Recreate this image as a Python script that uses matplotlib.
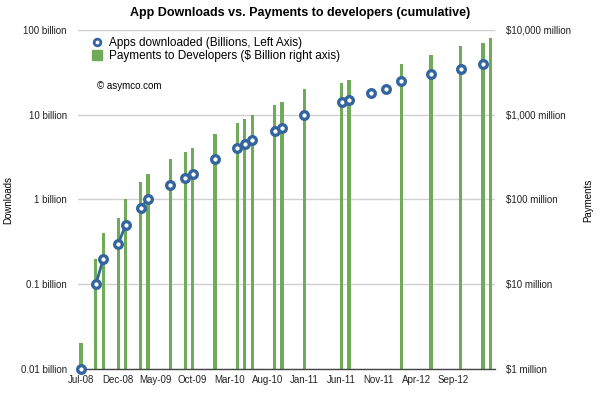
import numpy as np
import pandas as pd
import matplotlib
matplotlib.use('Agg')
import matplotlib.pyplot as plt
from matplotlib.lines import Line2D
from matplotlib.ticker import NullLocator

plt.rcParams['font.family'] = ['Liberation Sans', 'DejaVu Sans']

# Apps downloaded, billions (cumulative)
dl_months = ['2008-07', '2008-09', '2008-10', '2008-12', '2009-01', '2009-03',
             '2009-04', '2009-07', '2009-09', '2009-10', '2010-01', '2010-04',
             '2010-05', '2010-06', '2010-09', '2010-10', '2011-01', '2011-06',
             '2011-07', '2011-10', '2011-12', '2012-02', '2012-06', '2012-10',
             '2013-01']
downloads = [0.01, 0.1, 0.2, 0.3, 0.5, 0.8,
             1.0, 1.5, 1.8, 2.0, 3.0, 4.0,
             4.5, 5.0, 6.5, 7.0, 10, 14,
             15, 18, 20, 25, 30, 35,
             40]

# Payments to developers, $ million (cumulative)
pay_months = ['2008-07', '2008-09', '2008-10', '2008-12', '2009-01', '2009-03',
              '2009-04', '2009-07', '2009-09', '2009-10', '2010-01', '2010-04',
              '2010-05', '2010-06', '2010-09', '2010-10', '2011-01', '2011-06',
              '2011-07', '2012-02', '2012-06', '2012-10', '2013-01', '2013-02']
payments = [2, 20, 40, 60, 100, 160,
            200, 300, 360, 400, 600, 800,
            900, 1000, 1300, 1400, 2000, 2400,
            2600, 4000, 5000, 6500, 7000, 8000]

left_ticks = [0.01, 0.1, 1, 10, 100]
left_labels = ['0.01 billion', '0.1 billion', '1 billion', '10 billion', '100 billion']
right_ticks = [1, 10, 100, 1000, 10000]
right_labels = ['$1 million', '$10 million', '$100 million', '$1,000 million', '$10,000 million']

BLUE = '#34659e'
GREEN = '#70ab59'

# monthly axis, gaps where there is no figure for that month
months = pd.period_range('2008-07', '2013-02', freq='M')
x_all = np.arange(len(months))
dl = pd.Series(downloads, index=pd.PeriodIndex(dl_months, freq='M')).reindex(months)
pay = pd.Series(payments, index=pd.PeriodIndex(pay_months, freq='M'))
pay_x = [months.get_loc(p) for p in pay.index]

fig = plt.figure(figsize=(6, 3.93), dpi=100)
ax = fig.add_axes([0.13, 0.0611, 0.695, 0.8626])
ax2 = ax.twinx()
ax.set_zorder(ax2.get_zorder() + 1)
ax.patch.set_visible(False)

# bars on the right axis
ax2.bar(pay_x, pay.values, width=0.43, color=GREEN, zorder=2)
ax2.set_yscale('log')
ax2.set_ylim(1, 10000)
ax2.set_yticks(right_ticks)
ax2.set_yticklabels(right_labels)
ax2.yaxis.set_minor_locator(NullLocator())
ax2.set_axisbelow(True)
ax2.yaxis.grid(True, color='#cfcfcf', lw=1.0)

# downloads on the left axis
ax.plot(x_all, dl.values, color=BLUE, lw=2.0, marker='o', ms=5.5,
        mfc='white', mec=BLUE, mew=2.4, zorder=3, clip_on=False)
ax.set_yscale('log')
ax.set_ylim(0.01, 100)
ax.set_yticks(left_ticks)
ax.set_yticklabels(left_labels)
ax.yaxis.set_minor_locator(NullLocator())

# labels every five months, last one Sep-12
tick_x = x_all[:51:5]
ax.set_xlim(-0.4, 55.6)
ax.set_xticks(tick_x)
ax.set_xticklabels(months[tick_x].strftime('%b-%y'))

for a in (ax, ax2):
    for s in ('top', 'left', 'right'):
        a.spines[s].set_visible(False)
    a.tick_params(axis='both', length=0, labelsize=7, colors='#222222')
ax2.spines['bottom'].set_visible(False)
ax.spines['bottom'].set_color('#444444')
ax.spines['bottom'].set_linewidth(1.0)
ax.tick_params(axis='y', pad=8)
ax2.tick_params(axis='y', pad=8)
ax.tick_params(axis='x', pad=4)

fig.text(0.5, 1 - 13 / 393, 'App Downloads vs. Payments to developers (cumulative)',
         ha='center', va='center', fontsize=9, weight='bold')
fig.text(8 / 600, 0.49, 'Downloads', rotation=90, ha='center', va='center', fontsize=7)
fig.text(588 / 600, 0.49, 'Payments', rotation=90, ha='center', va='center', fontsize=7)
fig.text(97 / 600, 1 - 86 / 393, '\u00a9 asymco.com', ha='left', va='center', fontsize=7)

handles = [Line2D([], [], ls='none', marker='o', ms=4.8, mfc='white', mec=BLUE, mew=2.0),
           Line2D([], [], ls='none', marker='s', ms=6.5, color=GREEN)]
fig.legend(handles, ['Apps downloaded (Billions, Left Axis)',
                     'Payments to Developers ($ Billion right axis)'],
           loc='upper left', bbox_to_anchor=(91 / 600, 1 - 37 / 393), frameon=False,
           fontsize=8.5, handletextpad=0.5, labelspacing=0.1, borderpad=0,
           handlelength=1.0, borderaxespad=0)

fig.savefig('out.png', dpi=100)
